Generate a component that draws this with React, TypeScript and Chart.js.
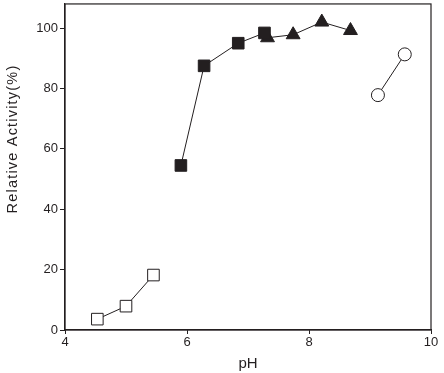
import React, { useEffect, useRef } from "react";
import { Chart, registerables } from "chart.js";

Chart.register(...registerables);

const openSquareX = [4.53, 5.0, 5.45];
const openSquareY = [3.6, 7.9, 18.2];
const filledSquareX = [5.9, 6.28, 6.84, 7.27];
const filledSquareY = [54.5, 87.5, 95.0, 98.4];
const triangleX = [7.32, 7.74, 8.21, 8.68];
const triangleY = [96.8, 97.8, 102.0, 99.2];
const circleX = [9.13, 9.57];
const circleY = [77.8, 91.3];

const xTicks = [4, 6, 8, 10];
const yTicks = [0, 20, 40, 60, 80, 100];
const yTitle = "Relative Activity(%)";
const xTitle = "pH";

const INK = "#231f20";
const FONT = "'Liberation Sans', Arial, Helvetica, sans-serif";

const toPts = (xs: number[], ys: number[]) => xs.map((x, i) => ({ x, y: ys[i] }));

const framePlugin = {
  id: "frame",
  afterDraw(chart: any) {
    const { ctx, chartArea } = chart;
    ctx.save();
    ctx.strokeStyle = INK;
    ctx.lineWidth = 1.2;
    ctx.strokeRect(chartArea.left, chartArea.top, chartArea.right - chartArea.left, chartArea.bottom - chartArea.top);
    // y-axis title
    ctx.translate(17, 139);
    ctx.rotate(-Math.PI / 2);
    ctx.fillStyle = INK;
    ctx.font = `14.5px ${FONT}`;
    (ctx as any).letterSpacing = "1.2px";
    ctx.textAlign = "center";
    ctx.textBaseline = "alphabetic";
    ctx.fillText(yTitle, 0, 0);
    ctx.restore();
  },
};

export default function App() {
  const ref = useRef<HTMLCanvasElement | null>(null);
  useEffect(() => {
    document.body.style.margin = "0";
    const ds = (data: any[], style: string, radius: number, filled: boolean) => ({
      data,
      showLine: true,
      borderColor: INK,
      borderWidth: 1,
      pointStyle: style,
      pointRadius: radius,
      pointBackgroundColor: filled ? INK : "#ffffff",
      pointBorderColor: INK,
      pointBorderWidth: 1,
    });
    const chart = new Chart(ref.current as HTMLCanvasElement, {
      type: "scatter",
      data: {
        datasets: [
          ds(toPts(openSquareX, openSquareY), "rect", 8.2, false),
          ds(toPts(filledSquareX, filledSquareY), "rect", 8.2, true),
          ds(toPts(triangleX, triangleY), "triangle", 8, true),
          ds(toPts(circleX, circleY), "circle", 6.5, false),
        ] as any,
      },
      options: {
        animation: false,
        responsive: false,
        layout: { autoPadding: false, padding: { top: 3, right: 13, left: 0, bottom: 0 } },
        plugins: { legend: { display: false }, tooltip: { enabled: false } },
        scales: {
          x: {
            type: "linear",
            min: 4,
            max: 10,
            afterBuildTicks: (s: any) => { s.ticks = xTicks.map((v) => ({ value: v })); },
            afterFit: (s: any) => { s.height = 43; },
            border: { color: INK, width: 1.2 },
            grid: { drawOnChartArea: false, drawTicks: true, tickLength: 4, color: INK },
            ticks: { color: INK, font: { family: FONT, size: 13 }, padding: 1, maxRotation: 0 },
            title: { display: true, text: xTitle, color: INK, font: { family: FONT, size: 15 }, padding: { top: 2, bottom: 0 } },
          },
          y: {
            type: "linear",
            min: 0,
            max: 108,
            afterBuildTicks: (s: any) => { s.ticks = yTicks.map((v) => ({ value: v })); },
            afterFit: (s: any) => { s.width = 65; },
            border: { color: INK, width: 1.2 },
            grid: { drawOnChartArea: false, drawTicks: true, tickLength: 5, color: INK },
            ticks: { color: INK, font: { family: FONT, size: 13, lineHeight: 0.3 }, padding: 2 },
            title: { display: false },
          },
        },
      },
      plugins: [framePlugin],
    });
    return () => chart.destroy();
  }, []);
  return (
    <div style={{ position: "fixed", left: 0, top: 0, width: 444, height: 373, background: "#fff" }}>
      <canvas ref={ref} width={444} height={373} />
    </div>
  );
}
